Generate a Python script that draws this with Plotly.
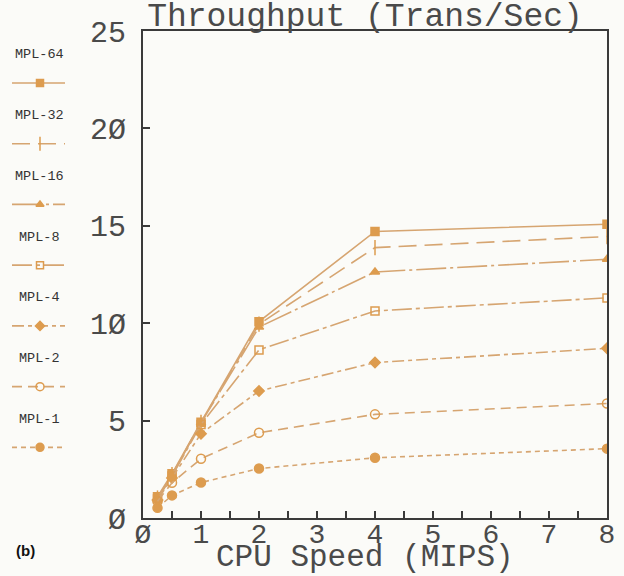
import plotly.graph_objects as go

# CPU speed (MIPS) at which throughput was measured
cpu_mips = [0.25, 0.5, 1, 2, 4, 8]

# Throughput (transactions/sec) for each multiprogramming level
mpl_64 = [1.09, 2.27, 4.92, 10.08, 14.71, 15.08]
mpl_32 = [1.02, 2.22, 4.90, 9.95, 13.88, 14.45]
mpl_16 = [1.00, 2.20, 4.88, 9.80, 12.63, 13.28]
mpl_8 = [0.98, 2.15, 4.80, 8.63, 10.63, 11.30]
mpl_4 = [0.92, 2.05, 4.33, 6.52, 7.98, 8.71]
mpl_2 = [0.86, 1.81, 3.04, 4.38, 5.32, 5.88]
mpl_1 = [0.52, 1.16, 1.82, 2.54, 3.09, 3.56]

series_names = ["MPL-64", "MPL-32", "MPL-16", "MPL-8", "MPL-4", "MPL-2", "MPL-1"]
series_values = [mpl_64, mpl_32, mpl_16, mpl_8, mpl_4, mpl_2, mpl_1]

x_ticks = [0, 1, 2, 3, 4, 5, 6, 7, 8]
x_tick_text = ["Ø", "1", "2", "3", "4", "5", "6", "7", "8"]
y_ticks = [0, 5, 10, 15, 20, 25]
y_tick_text = ["Ø", "5", "1Ø", "15", "2Ø", "25"]

LINE = "#d6a571"
MARK = "#dd9c4f"
TEXT = "#4a4a4a"
FONT = "Liberation Mono"

styles = [
    dict(dash="solid", symbol="square", size=8),
    dict(dash="18px,8px", symbol="line-ns-open", size=11),
    dict(dash="30px,4px,3px,4px", symbol="triangle-up", size=8),
    dict(dash="20px,4px,4px,4px", symbol="square-open", size=8),
    dict(dash="12px,4px,4px,4px", symbol="diamond", size=8),
    dict(dash="10px,6px", symbol="circle-open", size=9),
    dict(dash="5px,4px", symbol="circle", size=9),
]

W, H = 624, 576
M_L, M_R, M_T, M_B = 0, 17, 31, 57.5
paper_w = W - M_L - M_R
plot_left = 143
ylabel_edge = 126

fig = go.Figure()

for name, vals, st in zip(series_names, series_values, styles):
    fig.add_trace(go.Scatter(
        x=cpu_mips, y=vals, name=name, mode="lines+markers",
        line=dict(color=LINE, width=1.6, dash=st["dash"]),
        marker=dict(symbol=st["symbol"], size=st["size"], color=MARK,
                    line=dict(color=MARK, width=1.5)),
        showlegend=False, xaxis="x", yaxis="y",
    ))

# Hand-built key in the left column: label above a short line sample
row0, row_gap = 83, 60.8
for i, (name, st) in enumerate(zip(series_names, styles)):
    ly = row0 + row_gap * i
    fig.add_trace(go.Scatter(
        x=[12, 65], y=[ly, ly], mode="lines",
        line=dict(color=LINE, width=1.6, dash=st["dash"]),
        showlegend=False, hoverinfo="skip", xaxis="x2", yaxis="y2",
    ))
    fig.add_trace(go.Scatter(
        x=[40], y=[ly], mode="markers",
        marker=dict(symbol=st["symbol"], size=st["size"] - 1, color=MARK,
                    line=dict(color=MARK, width=1.5)),
        showlegend=False, hoverinfo="skip", xaxis="x2", yaxis="y2",
    ))
    fig.add_annotation(
        x=39, y=ly - 28, xref="x2", yref="y2", text=name, showarrow=False,
        font=dict(family=FONT, size=13.5, color="#333333"),
    )

axis_common = dict(showline=True, linecolor="#3a3a3a", linewidth=2,
                   mirror=True, showgrid=False, zeroline=False,
                   automargin=False)

fig.update_layout(
    width=W, height=H,
    margin=dict(l=M_L, r=M_R, t=M_T, b=M_B, autoexpand=False),
    paper_bgcolor="#fbfbf8", plot_bgcolor="#fbfbf8",
    xaxis=dict(domain=[plot_left / paper_w, 1], range=[0, 8],
               tickmode="array", tickvals=x_ticks, ticktext=x_tick_text,
               ticks="inside", ticklen=7, tickcolor="#3a3a3a", tickwidth=1.5,
               ticklabelstandoff=-11,
               tickfont=dict(family=FONT, size=28, color=TEXT),
               minor=dict(dtick=0.5, ticks="inside", ticklen=7,
                          tickcolor="#3a3a3a", tickwidth=1.5),
               **axis_common),
    yaxis=dict(range=[0, 25], tickmode="array", tickvals=y_ticks,
               ticks="inside", ticklen=7, showticklabels=False,
               tickcolor="#3a3a3a", tickwidth=1.5,
               **axis_common),
    # value labels for the left axis, set a little way out from the frame
    yaxis3=dict(range=[0, 25], overlaying="y", anchor="free",
                position=ylabel_edge / paper_w, side="left",
                tickmode="array", tickvals=y_ticks, ticktext=y_tick_text,
                ticks="", showline=False, showgrid=False, zeroline=False,
                automargin=False,
                tickfont=dict(family=FONT, size=30, color=TEXT)),
    xaxis2=dict(domain=[0, 90 / paper_w], range=[0, 90], visible=False,
                anchor="y2"),
    yaxis2=dict(domain=[0, 1], range=[H - M_B, M_T], visible=False,
                anchor="x2"),
    title=dict(text="Throughput (Trans/Sec)", xref="container",
               yref="container", x=365 / W, xanchor="center",
               y=1 - 14 / H, yanchor="middle",
               font=dict(family=FONT, size=33, color=TEXT)),
    showlegend=False,
)

# an empty trace keeps the label axis drawn
fig.add_trace(go.Scatter(x=[], y=[], xaxis="x", yaxis="y3",
                         showlegend=False, hoverinfo="skip"))

fig.add_annotation(
    x=(365 - M_L) / paper_w, y=(H - M_B - 558) / (H - M_T - M_B),
    xref="paper", yref="paper", text="CPU Speed (MIPS)", showarrow=False,
    font=dict(family=FONT, size=31, color=TEXT), yanchor="middle",
)
fig.add_annotation(
    x=14 / paper_w, y=(H - M_B - 551) / (H - M_T - M_B),
    xref="paper", yref="paper", text="<b>(b)</b>", showarrow=False,
    xanchor="left", yanchor="middle",
    font=dict(family="Liberation Sans", size=15, color="#111111"),
)

fig.write_html("out.html")
